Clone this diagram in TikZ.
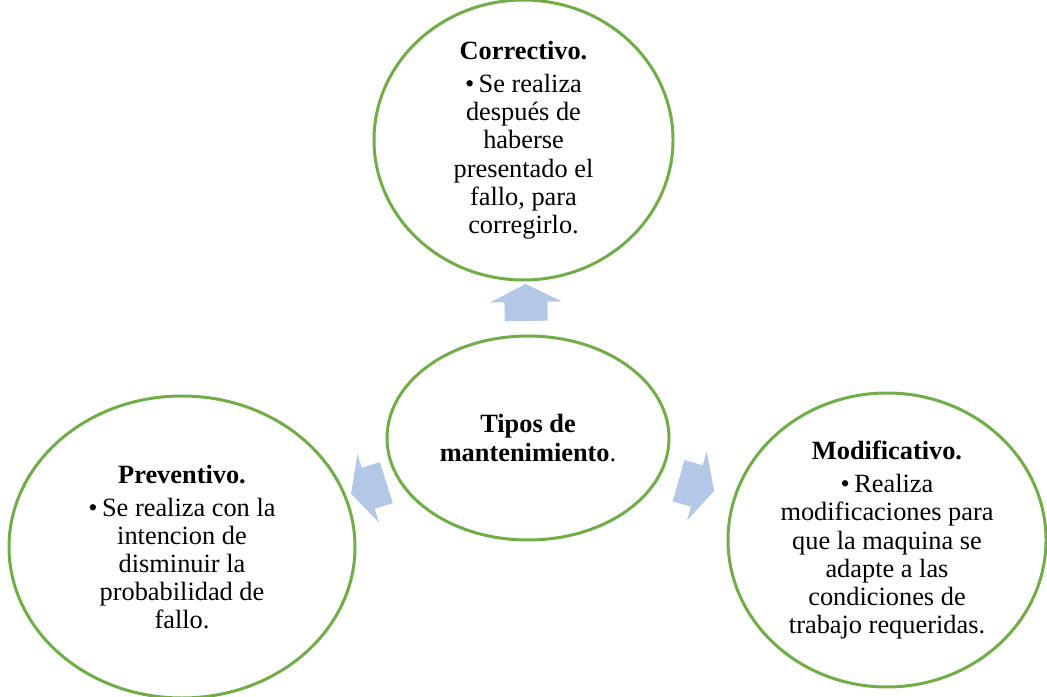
\documentclass[tikz,border=0pt]{standalone}
\usepackage{fontspec}
\setmainfont{Liberation Serif}
\usetikzlibrary{positioning, calc, shapes.geometric}
\definecolor{Verde}{HTML}{70AD47}
\definecolor{Celeste}{HTML}{B4C7E7}
\tikzset{
    bubble/.style={ellipse, draw=Verde, line width=1.7pt, inner sep=0pt, align=center, font=\fontsize{15}{16}\selectfont},
    blockarrow/.style={fill=Celeste},
}

\begin{document}
\begin{tikzpicture}
    \useasboundingbox (0,0) rectangle (20.94,13.92);

    % Nodo centrale
    \node[bubble, minimum width=5.64cm, minimum height=4.08cm] (mid) at (10.56,5.16)
        {\textbf{Tipos de}\\\textbf{mantenimiento}.};

    % Tipi
    \node[bubble, minimum width=5.98cm, minimum height=5.08cm] (corr) at (10.47,11.12)
        {\textbf{Correctivo.}\\[3pt]
         •\,Se realiza\\después de\\haberse\\presentado el\\fallo, para\\corregirlo.};
    \node[bubble, minimum width=6.92cm, minimum height=6.04cm] (prev) at (3.64,2.98)
        {\textbf{Preventivo.}\\[3pt]
         •\,Se realiza con la\\intencion de\\disminuir la\\probabilidad de\\fallo.};
    \node[bubble, minimum width=6.36cm, minimum height=5.88cm] (modif) at (17.74,3.12)
        {\textbf{Modificativo.}\\[3pt]
         •\,Realiza\\modificaciones para\\que la maquina se\\adapte a las\\condiciones de\\trabajo requeridas.};

    % Frecce verso i tipi
    \foreach \tgt/\db/\dt in {corr/2.34/3.08, prev/2.97/3.71, modif/3.13/3.87} {
        \coordinate (b) at ($(mid)!\db cm!(\tgt)$);
        \coordinate (t) at ($(mid)!\dt cm!(\tgt)$);
        \coordinate (w) at ($(b)!0.38cm!(t)$);
        \fill[blockarrow] ($(b)!0.43cm!90:(t)$) -- ($(w)!0.43cm!90:(t)$) -- ($(w)!0.72cm!90:(t)$)
            -- (t) -- ($(w)!0.72cm!-90:(t)$) -- ($(w)!0.43cm!-90:(t)$) -- ($(b)!0.43cm!-90:(t)$) -- cycle;
    }
\end{tikzpicture}
\end{document}
